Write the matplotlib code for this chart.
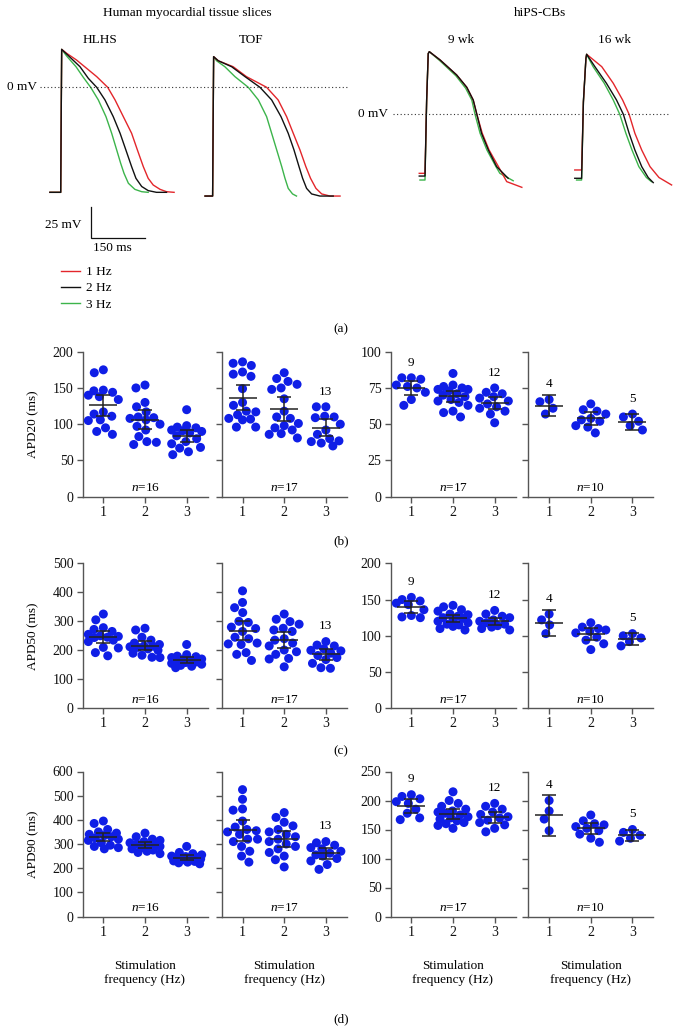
import numpy as np
import matplotlib
matplotlib.use("Agg")
import matplotlib.pyplot as plt
from matplotlib.lines import Line2D

plt.rcParams['font.family'] = ['Liberation Serif', 'DejaVu Serif']
plt.rcParams['mathtext.fontset'] = 'custom'
plt.rcParams['mathtext.it'] = 'Liberation Serif:italic'
plt.rcParams['mathtext.rm'] = 'Liberation Serif'

# ---------------- Action potential traces (t in ms from upstroke, V in mV) ----------------
hlhs_t_1hz = [-30, 0, 2.7, 16.6, 44, 72, 100, 130.5, 151, 174, 197, 213, 229.5, 243, 257, 276, 294, 315]
hlhs_v_1hz = [-84.7, -84.7, 30.6, 27.4, 22.0, 15.3, 8.6, 0, -10.2, -23.7, -37.1, -50.5, -64, -73.4, -78.8, -82.3, -84.2, -84.7]
hlhs_t_2hz = [-30, 0, 2.7, 16.6, 53.6, 76.8, 100, 123, 146, 165, 181, 197, 209, 225, 243, 266, 294]
hlhs_v_2hz = [-84.7, -84.7, 30.6, 26.8, 16.6, 7.2, 0, -10.2, -23.7, -37.1, -50.5, -64, -73.4, -80, -83.3, -84.7, -84.7]
hlhs_t_3hz = [-30, 0, 2.7, 16.6, 42.5, 62.9, 83.2, 104.5, 125.8, 141.6, 155.5, 166.6, 175.9, 188, 206, 225, 243]
hlhs_v_3hz = [-84.7, -84.7, 30.6, 25.2, 16.6, 8, 0, -10.2, -23.7, -37.1, -50.5, -61.3, -69.4, -77.4, -82.3, -84.2, -84.7]

tof_t_1hz = [-21, 0, 2.8, 15.7, 57, 94, 150, 182, 205.6, 224, 242.6, 259, 272, 287, 303, 326, 354]
tof_v_1hz = [-87.7, -87.7, 24.7, 21.4, 16.6, 8.6, 0, -10.2, -23.7, -37.1, -50.5, -64, -73.4, -81.5, -86, -87.7, -87.7]
tof_t_2hz = [-21, 0, 2.8, 15.7, 52.8, 90, 131.5, 164, 190, 210, 226, 240, 250, 261, 275, 298, 335]
tof_v_2hz = [-87.7, -87.7, 24.7, 21.4, 16.6, 8.6, 0, -10.2, -23.7, -37.1, -50.5, -64, -73.4, -81.5, -86, -87.7, -87.7]
tof_t_3hz = [-21, 0, 2.8, 11, 34, 62, 99, 127, 150, 164, 178, 192, 201, 210, 222, 233]
tof_v_3hz = [-87.7, -87.7, 24.7, 21.4, 16.6, 8.6, 0, -10.2, -23.7, -37.1, -50.5, -64, -73.4, -81.5, -86, -87.7]

wk9_t_1hz = [-16, 0, 4.6, 9, 12, 42, 88, 116, 134, 144, 159, 178, 204, 227, 269]
wk9_v_1hz = [-47.6, -47.6, 11.5, 49, 50.5, 43.8, 31.7, 21.8, 11.5, 0, -15.3, -28.8, -42.2, -54.3, -58.9]
wk9_t_2hz = [-16, 0, 4.6, 9, 12, 42, 88, 116, 134, 144, 157, 176, 199, 231]
wk9_v_2hz = [-49.8, -49.8, 11.5, 49, 50.5, 43.8, 31.7, 21.8, 11.5, 0, -15.3, -28.8, -42.2, -51.6]
wk9_t_3hz = [-14, 0, 4.6, 9, 12, 42, 86, 113, 130, 139, 153, 172, 197, 208, 245]
wk9_v_3hz = [-53, -53, 11.5, 49, 50.5, 43, 31, 21, 11.5, 0, -15.3, -28.8, -42.2, -47.6, -53.6]

wk16_t_1hz = [-19, 0, 5, 12, 14, 56, 88, 114, 132, 148, 167, 190, 215, 250]
wk16_v_1hz = [-44.9, -44.9, 10, 45, 48.4, 38.4, 25, 11.5, 0, -15.3, -28.8, -42.2, -51, -57]
wk16_t_2hz = [-19, 0, 5, 12, 14, 37, 69, 97, 116, 132, 148, 167, 185, 199]
wk16_v_2hz = [-51.6, -51.6, 10, 45, 48.4, 38.4, 25, 11.5, 0, -15.3, -28.8, -42.2, -51, -55.1]
wk16_t_3hz = [-14, 0, 5, 12, 14, 32, 63, 88, 106, 123, 140, 159, 180, 194]
wk16_v_3hz = [-53, -53, 10, 45, 48.4, 38.4, 25, 11.5, 0, -15.3, -28.8, -42.2, -51, -54.3]

trace_labels = ['1 Hz', '2 Hz', '3 Hz']
trace_colors = ['#e3262b', '#111111', '#3cb44b']

# ---------------- APD data (ms); groups = 1, 2, 3 Hz ----------------
freqs = [1, 2, 3]

apd20_hlhs = [[175, 171, 147, 146, 144, 140, 138, 134, 117, 114, 111, 106, 105, 95, 90, 86],
              [154, 150, 130, 124, 117, 110, 109, 108, 106, 100, 97, 92, 83, 76, 75, 72],
              [120, 98, 96, 95, 92, 91, 90, 88, 84, 80, 76, 73, 68, 67, 62, 58]]
apd20_tof = [[186, 184, 181, 172, 169, 166, 149, 130, 126, 118, 117, 113, 108, 107, 106, 96, 96],
             [171, 163, 159, 155, 150, 148, 135, 118, 110, 108, 101, 98, 95, 92, 87, 86, 81],
             [124, 124, 111, 110, 109, 100, 92, 86, 80, 77, 76, 74, 70]]
apd20_9wk = [[82, 82, 81, 77, 76, 75, 72, 67, 63],
             [85, 77, 76, 75, 74, 74, 73, 71, 70, 69, 67, 66, 65, 63, 59, 58, 55],
             [75, 72, 71, 69, 68, 66, 64, 62, 61, 59, 57, 51]]
apd20_16wk = [[67, 65.5, 61, 57],
              [64, 60, 59, 57, 54, 53, 52, 49, 48, 44],
              [57, 55, 52, 49, 46]]

apd50_hlhs = [[325, 305, 278, 272, 265, 255, 250, 248, 245, 244, 235, 230, 210, 208, 192, 181],
              [276, 270, 245, 235, 225, 220, 215, 214, 212, 210, 205, 200, 190, 183, 176, 175],
              [220, 185, 180, 178, 175, 170, 168, 165, 162, 160, 158, 155, 152, 148, 145, 140]]
apd50_tof = [[405, 365, 347, 330, 300, 296, 280, 275, 265, 245, 240, 225, 222, 220, 192, 186, 165],
             [325, 307, 299, 290, 276, 270, 265, 240, 235, 225, 215, 201, 195, 186, 172, 170, 143],
             [230, 218, 215, 205, 200, 198, 190, 182, 175, 168, 155, 140, 138]]
apd50_9wk = [[153, 150, 148, 145, 143, 136, 128, 126, 125],
             [142, 140, 136, 134, 130, 129, 127, 125, 124, 122, 120, 118, 116, 115, 113, 110, 108],
             [135, 130, 127, 125, 122, 120, 118, 116, 114, 112, 110, 108]]
apd50_16wk = [[130, 122, 115, 103],
              [118, 112, 110, 108, 106, 104, 98, 94, 89, 81],
              [103, 100, 97, 92, 86]]

apd90_hlhs = [[395, 385, 360, 350, 345, 340, 335, 330, 325, 320, 315, 305, 295, 290, 285, 280],
              [345, 330, 320, 315, 310, 305, 300, 298, 295, 290, 285, 280, 275, 270, 265, 260],
              [290, 265, 260, 255, 250, 248, 245, 242, 240, 238, 235, 230, 228, 225, 222, 218]]
apd90_tof = [[525, 485, 445, 440, 395, 370, 360, 355, 350, 340, 320, 320, 310, 290, 270, 250, 225],
             [430, 410, 390, 375, 360, 350, 340, 330, 320, 310, 300, 290, 280, 265, 250, 235, 205],
             [310, 305, 295, 285, 280, 270, 262, 255, 250, 240, 230, 215, 195]]
apd90_9wk = [[210, 207, 203, 198, 195, 185, 178, 170, 167],
             [215, 200, 195, 190, 185, 182, 180, 178, 175, 172, 170, 168, 165, 162, 160, 157, 152],
             [195, 190, 185, 180, 176, 172, 170, 166, 162, 158, 152, 146]]
apd90_16wk = [[200, 182, 168, 148],
              [175, 165, 160, 158, 155, 152, 148, 142, 135, 128],
              [150, 145, 140, 135, 130]]

ylabels = ['APD20 (ms)', 'APD50 (ms)', 'APD90 (ms)']
xlabel = 'Stimulation\nfrequency (Hz)'
panel_letters = ['(a)', '(b)', '(c)', '(d)']

# two-sided 95% t critical values by degrees of freedom
T975 = {3: 3.182, 4: 2.776, 8: 2.306, 9: 2.262, 11: 2.201, 12: 2.179, 15: 2.131, 16: 2.120}

# ---------------- Figure ----------------
W, H = 681, 1030
fig = plt.figure(figsize=(W / 100, H / 100), dpi=100)
FS = 9.5


def add_ax_px(left, top, width, height):
    return fig.add_axes([left / W, 1 - (top + height) / H, width / W, height / H])


def ftext(x, y, s, **kw):
    kw.setdefault('fontsize', FS)
    kw.setdefault('ha', 'center')
    kw.setdefault('va', 'center')
    return fig.text(x / W, 1 - y / H, s, **kw)


# Trace axes: same ms/mV scale (0.36 px/ms, 1.24 px/mV)
PX_MS, PX_MV = 0.36, 1.24
axL = add_ax_px(0, 25, 340, 295)
axL.set_xlim(-60.7 / PX_MS, (340 - 60.7) / PX_MS)
axL.set_ylim((87.3 - 320) / PX_MV, (87.3 - 25) / PX_MV)
axR = add_ax_px(340, 25, 341, 295)
axR.set_xlim((340 - 425) / PX_MS, (681 - 425) / PX_MS)
axR.set_ylim((114.3 - 320) / PX_MV, (114.3 - 25) / PX_MV)
for a in (axL, axR):
    a.axis('off')

tof_offset = 422
wk16_offset = 435

left_sets = [((hlhs_t_1hz, hlhs_v_1hz), (hlhs_t_2hz, hlhs_v_2hz), (hlhs_t_3hz, hlhs_v_3hz), 0),
             ((tof_t_1hz, tof_v_1hz), (tof_t_2hz, tof_v_2hz), (tof_t_3hz, tof_v_3hz), tof_offset)]
right_sets = [((wk9_t_1hz, wk9_v_1hz), (wk9_t_2hz, wk9_v_2hz), (wk9_t_3hz, wk9_v_3hz), 0),
              ((wk16_t_1hz, wk16_v_1hz), (wk16_t_2hz, wk16_v_2hz), (wk16_t_3hz, wk16_v_3hz), wk16_offset)]

for ax, sets in ((axL, left_sets), (axR, right_sets)):
    for s in sets:
        off = s[3]
        for k in (2, 0, 1):
            t, v = s[k]
            ax.plot(np.array(t) + off, v, color=trace_colors[k], lw=1.0,
                    solid_joinstyle='round', clip_on=False)

# 0 mV reference lines
axL.plot([-57, 800], [0, 0], ls=(0, (1, 2.2)), color='#333333', lw=0.8, clip_on=False)
axL.text(-66, 0, '0 mV', ha='right', va='center', fontsize=FS)
axR.plot([-89, 680], [0, 0], ls=(0, (1, 2.2)), color='#333333', lw=0.8, clip_on=False)
axR.text(-104, 0, '0 mV', ha='right', va='center', fontsize=FS)

# scale bar (25 mV, 150 ms)
sb_t, sb_v = 84, -121.5
axL.plot([sb_t, sb_t, sb_t + 150], [sb_v + 25, sb_v, sb_v], color='#111111', lw=0.9,
         solid_joinstyle='miter')
axL.text(sb_t - 26, sb_v + 10.5, '25 mV', ha='right', va='center', fontsize=FS)
axL.text(sb_t + 60, sb_v - 8.2, '150 ms', ha='center', va='center', fontsize=FS)

leg_handles = [Line2D([], [], color=col, lw=1.0) for col in trace_colors]
fig.legend(leg_handles, trace_labels, loc='upper left', bbox_to_anchor=(61 / W, 1 - 266 / H),
           frameon=False, fontsize=FS, handlelength=1.45, handletextpad=0.45,
           labelspacing=0.3, borderpad=0, borderaxespad=0)

# top titles
ftext(187, 13, 'Human myocardial tissue slices')
ftext(540, 13, 'hiPS-CBs')
ftext(100, 40, 'HLHS')
ftext(251, 40, 'TOF')
ftext(461, 40, '9 wk')
ftext(615, 40, '16 wk')

# ---------------- Scatter panels ----------------
col_left = [82.5, 221.7, 390.5, 528.3]
row_top = [351.7, 563.3, 771.5]
AXW, AXH = 125, 145
row_data = [[apd20_hlhs, apd20_tof, apd20_9wk, apd20_16wk],
            [apd50_hlhs, apd50_tof, apd50_9wk, apd50_16wk],
            [apd90_hlhs, apd90_tof, apd90_9wk, apd90_16wk]]
row_ylim = [((0, 200), 50, (0, 100), 25),
            ((0, 500), 100, (0, 200), 50),
            ((0, 600), 100, (0, 250), 50)]

DOT = '#0f1ee6'
ECOL = '#222222'
AXC = '#555555'


def swarm(vals, ppu_y, ppu_x, d=9.5, cap=15.0):
    """Beeswarm layout in pixel space, spread limited to +/- cap pixels (overlap allowed beyond)."""
    vals = np.asarray(vals, float)
    n = len(vals)
    xs = np.zeros(n)
    placed = []
    grid = np.linspace(-cap, cap, 31)
    for i in np.argsort(-vals, kind='stable'):
        y = vals[i] * ppu_y
        cands = [0.0]
        for px, py in placed:
            dy = abs(py - y)
            if dy < d:
                dx = np.sqrt(d * d - dy * dy)
                cands += [px + dx, px - dx]
        cands = [cc for cc in cands if abs(cc) <= cap + 1e-9]
        cands.sort(key=lambda cc: (abs(cc), cc))
        chosen = None
        for cc in cands:
            if all((cc - px) ** 2 + (y - py) ** 2 >= d * d - 1e-6 for px, py in placed):
                chosen = cc
                break
        if chosen is None:
            best = -1
            for cc in grid:
                md = min(np.hypot(cc - px, y - py) for px, py in placed)
                if md > best + 1e-9:
                    best, chosen = md, cc
        placed.append((chosen, y))
        xs[i] = chosen / ppu_x
    return xs


for r in range(3):
    for c in range(4):
        ax = add_ax_px(col_left[c], row_top[r], AXW, AXH)
        data = row_data[r][c]
        if c < 2:
            ylim, step = row_ylim[r][0], row_ylim[r][1]
        else:
            ylim, step = row_ylim[r][2], row_ylim[r][3]
        ax.set_xlim(0.5, 3.5)
        ax.set_ylim(*ylim)
        ax.set_yticks(np.arange(ylim[0], ylim[1] + 0.1, step))
        ax.set_xticks(freqs)
        ax.set_xticklabels([str(f) for f in freqs])
        for sp in ('top', 'right'):
            ax.spines[sp].set_visible(False)
        for sp in ('left', 'bottom'):
            ax.spines[sp].set_color(AXC)
            ax.spines[sp].set_linewidth(1.0)
        ax.tick_params(axis='both', colors=AXC, labelcolor='#111111', length=4, width=1.0,
                       labelsize=10, pad=2.5)
        if c in (1, 3):
            ax.set_yticklabels([])
        ppu_y = AXH / (ylim[1] - ylim[0])
        ppu_x = AXW / 3.0
        nmax = max(len(g) for g in data)
        for gi, g in enumerate(data):
            xpos = freqs[gi]
            offs = swarm(g, ppu_y, ppu_x)
            ax.scatter(xpos + offs, g, s=42, color=DOT, edgecolors='none', zorder=3,
                       clip_on=False)
            m = np.mean(g)
            ci = T975[len(g) - 1] * np.std(g, ddof=1) / np.sqrt(len(g))
            ax.hlines(m, xpos - 0.336, xpos + 0.336, color=ECOL, lw=1.1, zorder=4)
            ax.errorbar(xpos, m, yerr=ci, fmt='none', ecolor=ECOL, elinewidth=1.1,
                        capsize=5, capthick=1.1, zorder=4)
            if len(g) < nmax:
                ax.annotate(str(len(g)), xy=(xpos, max(g)), xytext=(0, 11), textcoords='offset points',
                            ha='center', va='center', fontsize=FS)
        ax.text(0.5, 0.06, r'$\it{n}$=%d' % nmax, transform=ax.transAxes, ha='center', va='center',
                fontsize=FS)
    ftext(33, row_top[r] + AXH / 2, ylabels[r], rotation=90)

for c in range(4):
    ftext(col_left[c] + AXW / 2, 973, xlabel, linespacing=1.3)

ftext(341, 329, panel_letters[0])
ftext(341, 541, panel_letters[1])
ftext(341, 751, panel_letters[2])
ftext(341, 1019, panel_letters[3])

fig.savefig('out.png', dpi=100)
